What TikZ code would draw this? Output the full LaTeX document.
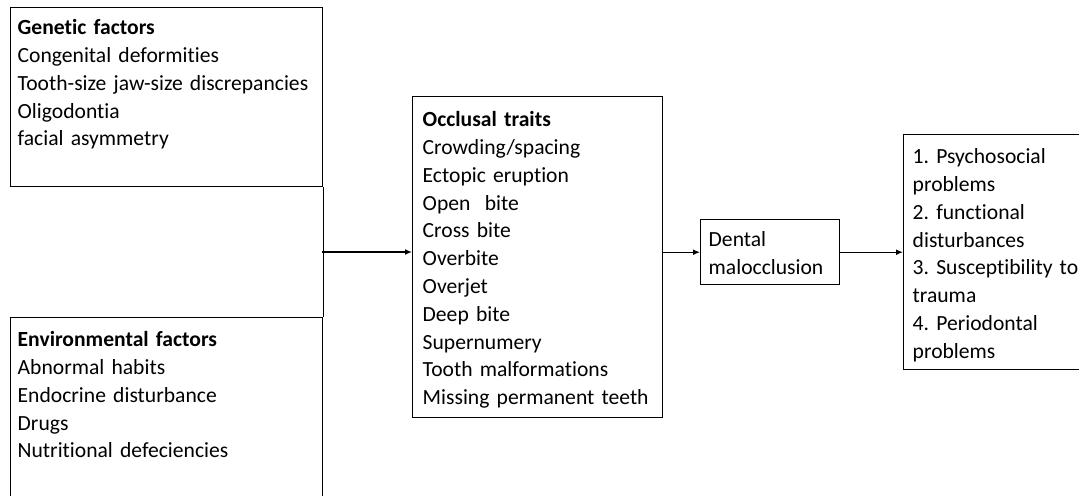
\documentclass[tikz,border=0pt]{standalone}
\usepackage{fontspec}
\setmainfont{Carlito}[Ligatures=NoCommon]
\frenchspacing
\usetikzlibrary{arrows.meta}
\tikzset{
  listbox/.style={draw, line width=0.7pt, anchor=north west, align=left,
    text height=7pt, font=\fontsize{10.8}{13.9}\selectfont},
  arr/.style={line width=0.7pt, -{Latex[length=3.5pt,width=3pt]}}
}
\begin{document}
\begin{tikzpicture}[x=0.5pt,y=-0.5pt]
  \useasboundingbox (0,0) rectangle (1079,495);
  \draw
    (10,7) node[listbox, inner xsep=3.5pt, inner ysep=6.5pt, text width=149pt, text depth=69.5pt] (genetic)
      {\textbf{Genetic factors}\\Congenital deformities\\Tooth-size jaw-size discrepancies\\Oligodontia\\facial asymmetry}
    (10,317) node[listbox, inner xsep=3.5pt, inner ysep=7.5pt, text width=149pt, text depth=73pt] (environ)
      {\textbf{Environmental factors}\\Abnormal habits\\Endocrine disturbance\\Drugs\\Nutritional defeciencies}
    (412,96) node[listbox, inner xsep=5pt, inner ysep=8pt, text width=115pt, text depth=137.5pt] (occlusal)
      {\textbf{Occlusal traits}\\Crowding/spacing\\Ectopic eruption\\Open\ \ bite\\Cross bite\\Overbite\\Overjet\\Deep bite\\Supernumery\\Tooth malformations\\Missing permanent teeth}
    (700,219) node[listbox, inner xsep=4pt, inner ysep=6.5pt, text width=61.5pt, text depth=12.5pt] (dental)
      {Dental\\malocclusion}
    (903,134) node[listbox, inner xsep=4.5pt, inner ysep=7.5pt, text width=86pt, text depth=95.5pt] (outcomes)
      {1. Psychosocial\\problems\\2. functional\\disturbances\\3. Susceptibility to\\trauma\\4. Periodontal\\problems};
  \coordinate (join) at (322,252);
  \begin{scope}[line width=0.7pt]
    \draw (genetic.south east) -- (environ.north east);
    \draw[arr] (join) -- (join -| occlusal.west);
    \draw[arr] (occlusal.east |- dental.west) -- (dental.west);
    \draw[arr] (dental.east) -- (dental.east -| outcomes.west);
  \end{scope}
\end{tikzpicture}
\end{document}
